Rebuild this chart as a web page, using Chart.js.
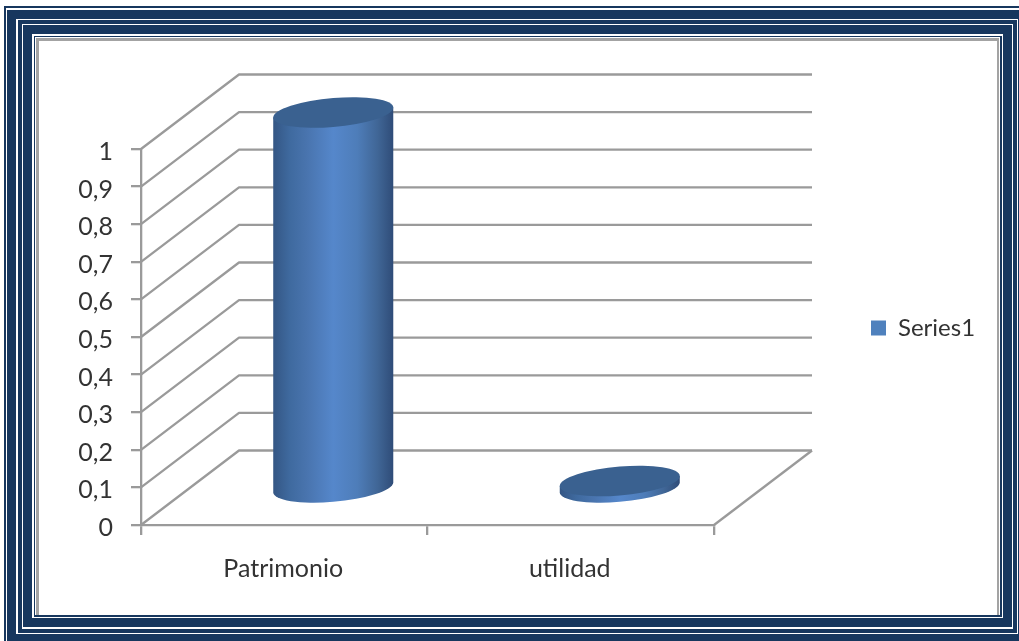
<!DOCTYPE html>
<html>
<head>
<meta charset="utf-8">
<script src="https://cdn.jsdelivr.net/npm/chart.js@4/dist/chart.umd.min.js"></script>
<style>
html,body{margin:0;padding:0;background:#fff;overflow:hidden}
#wrap{position:relative;width:1019px;height:641px;overflow:hidden}
#wrap div{position:absolute}
canvas{position:absolute;left:0;top:0;filter:blur(0.6px)}
</style>
</head>
<body>
<div id="wrap"><canvas id="c" width="1019" height="641"></canvas></div>
<script>
const categories = ['Patrimonio', 'utilidad'];
const seriesName = 'Series1';
const seriesValues = [1, 0.02];
const yTickLabels = ['0','0,1','0,2','0,3','0,4','0,5','0,6','0,7','0,8','0,9','1'];

const NAVY = '#17375e', WHITE = '#ffffff', GREY = '#a3a3a3';
const frameLayers = [
  [4,6,1019,641,NAVY],[6,8,1019,641,WHITE],[7,10,1019,641,NAVY],
  [16,19,1018,634,WHITE],[18,20,1017,633,NAVY],[22,24,1013,629,WHITE],
  [23,25,1012,627,NAVY],[32,34,1003,618,WHITE],[34,36,1002,617,NAVY],
  [35,37,1000,615,WHITE],[36,38,999,615,GREY],[39,41,997,615,WHITE]
];
const wrap = document.getElementById('wrap');
const cv = document.getElementById('c');
frameLayers.forEach(([l,t,r,b,col]) => {
  const d = document.createElement('div');
  d.style.cssText = `left:${l}px;top:${t}px;width:${r-l}px;height:${b-t}px;background:${col}`;
  wrap.insertBefore(d, cv);
});

const DX = 98, DY = 74.5, LINE = '#9a9a9a', TEXT = '#333333';
const FONT = 'Lato, Carlito, sans-serif';
const FS = 25;

const wallsAndCylinders = {
  id: 'wallsAndCylinders',
  beforeLayout(chart) {
    const l = chart.legend;
    if (l && !l._patched) {
      l._patched = true;
      const fit = l.fit.bind(l);
      l.fit = function () { fit(); this._fullW = this.width; this.width = 1; };
    }
  },
  beforeDraw(chart) {
    const l = chart.legend;
    const h = l.bottom - l.top;
    l.left = 861; l.width = l._fullW; l.right = 861 + l._fullW;
    l.top = 112; l.bottom = 112 + h;
  },
  beforeDatasetsDraw(chart) {
    const { ctx, scales: { x, y }, chartArea: a } = chart;
    ctx.save();
    ctx.strokeStyle = LINE; ctx.lineWidth = 2.3; ctx.lineJoin = 'round';
    y.ticks.forEach(t => {
      const py = y.getPixelForValue(t.value);
      ctx.beginPath();
      ctx.moveTo(a.left, py);
      ctx.lineTo(a.left + DX, py - DY);
      ctx.lineTo(a.right + DX, py - DY);
      ctx.stroke();
    });
    ctx.beginPath();
    ctx.moveTo(a.right, a.bottom);
    ctx.lineTo(a.right + DX, a.bottom - DY);
    ctx.stroke();
    ctx.restore();
  },
  beforeDatasetDraw(chart, args) {
    const { ctx } = chart;
    const meta = chart.getDatasetMeta(args.index);
    ctx.save();
    meta.data.forEach(bar => {
      const rx = bar.width / 2, ry = 14.5, tilt = -5 / 60;
      const cx = bar.x + DX / 2;
      const top = bar.y - 36.5, base = bar.base - 36.5;
      const g = ctx.createLinearGradient(cx - rx, 0, cx + rx, 0);
      g.addColorStop(0, '#345684');
      g.addColorStop(0.14, '#3f6a9f');
      g.addColorStop(0.28, '#4974ae');
      g.addColorStop(0.5, '#5587cb');
      g.addColorStop(0.7, '#4e7db9');
      g.addColorStop(0.87, '#406696');
      g.addColorStop(1, '#2f4c78');
      ctx.save();
      ctx.transform(1, tilt, 0, 1, cx, 0);
      ctx.beginPath();
      ctx.ellipse(0, base, rx, ry, 0, Math.PI, 0, true);
      ctx.lineTo(rx, top);
      ctx.lineTo(-rx, top);
      ctx.closePath();
      ctx.restore();
      ctx.fillStyle = g;
      ctx.fill();
      ctx.save();
      ctx.transform(1, tilt, 0, 1, cx, 0);
      ctx.beginPath();
      ctx.ellipse(0, top, rx, ry, 0, 0, Math.PI * 2);
      ctx.restore();
      ctx.fillStyle = '#3a6190';
      ctx.fill();
    });
    ctx.restore();
    return false;
  }
};

new Chart(cv, {
  type: 'bar',
  data: {
    labels: categories,
    datasets: [{
      label: seriesName,
      data: seriesValues,
      backgroundColor: '#4f81bd',
      borderWidth: 0,
      categoryPercentage: 1,
      barPercentage: 0.419
    }]
  },
  plugins: [wallsAndCylinders],
  options: {
    responsive: false,
    animation: false,
    events: [],
    layout: { padding: { left: 70, right: 304, top: 149, bottom: 60 } },
    plugins: {
      title: { display: false },
      tooltip: { enabled: false },
      legend: {
        display: true,
        position: 'right',
        labels: {
          boxWidth: 15, boxHeight: 15, color: TEXT,
          font: { family: FONT, size: 24 }
        }
      }
    },
    scales: {
      x: {
        grid: { drawOnChartArea: false, drawTicks: true, tickLength: 10, color: LINE, lineWidth: 2.3 },
        border: { color: LINE, width: 2.3 },
        ticks: { color: TEXT, padding: 19, labelOffset: -1, font: { family: FONT, size: FS }, maxRotation: 0 },
        afterFit(s) { s.height = 56; }
      },
      y: {
        min: 0, max: 1,
        grid: { drawOnChartArea: false, drawTicks: true, tickLength: 10, color: LINE, lineWidth: 2.3 },
        border: { color: LINE, width: 2.3 },
        ticks: {
          stepSize: 0.1, color: TEXT, padding: 18, labelOffset: 3,
          font: { family: FONT, size: FS },
          callback: (v, i) => yTickLabels[i]
        },
        afterFit(s) { s.width = 71; }
      }
    }
  }
});
</script>
</body>
</html>
